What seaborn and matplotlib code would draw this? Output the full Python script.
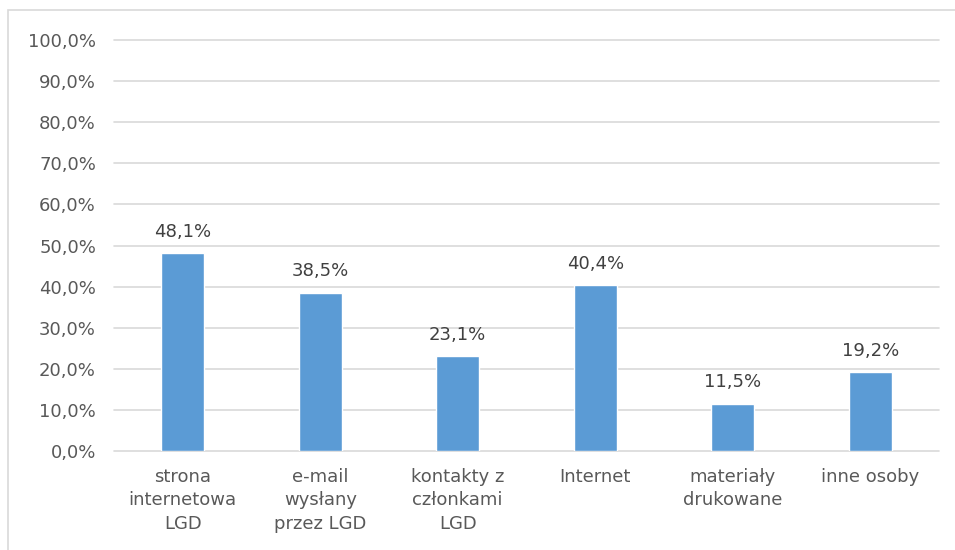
import matplotlib
matplotlib.use("Agg")
import matplotlib.pyplot as plt
import matplotlib.patches as patches
import seaborn as sns
import pandas as pd
from matplotlib.ticker import FuncFormatter

# Data
categories = [
    "strona\ninternetowa\nLGD",
    "e-mail\nwysłany\nprzez LGD",
    "kontakty z\nczłonkami\nLGD",
    "Internet",
    "materiały\ndrukowane",
    "inne osoby",
]
values = [48.1, 38.5, 23.1, 40.4, 11.5, 19.2]
y_ticks = [0, 10, 20, 30, 40, 50, 60, 70, 80, 90, 100]

df = pd.DataFrame({"kategoria": categories, "procent": values})

sns.set_style("white")
plt.rcParams['font.family'] = ['DejaVu Sans']

text_color = "#595959"
grid_color = "#d9d9d9"
bar_color = "#5b9bd5"

fig = plt.figure(figsize=(9.55, 5.5), dpi=100)
ax = fig.add_axes([0.1194, 0.18, 0.8638, 0.747])

sns.barplot(data=df, x="kategoria", y="procent", color=bar_color,
            width=0.31, saturation=1, ax=ax, zorder=3)

ax.set_ylim(0, 100)
ax.set_yticks(y_ticks)
ax.yaxis.set_major_formatter(FuncFormatter(lambda v, p: f"{v:.1f}%".replace(".", ",")))
ax.yaxis.grid(True, color=grid_color, linewidth=1.2, zorder=0)
for gl in ax.get_ygridlines():
    gl.set_clip_on(False)
ax.set_axisbelow(True)
for s in ax.spines.values():
    s.set_visible(False)
ax.tick_params(axis="both", length=0, colors=text_color, labelsize=13)
ax.tick_params(axis="x", pad=12)
ax.tick_params(axis="y", pad=13)
for lbl in ax.get_xticklabels():
    lbl.set_linespacing(1.4)
ax.set_xlabel("")
ax.set_ylabel("")

for i, v in enumerate(values):
    ax.text(i, v + 3, f"{v:.1f}%".replace(".", ","), ha="center", va="bottom",
            color="#404040", fontsize=13)

# chart frame
fig.patches.append(patches.Rectangle((8 / 955, -0.1), 1.2, 1 - 10 / 550 + 0.1,
                                     transform=fig.transFigure, fill=False,
                                     edgecolor=grid_color, linewidth=1.2))

fig.savefig("out.png", dpi=100)
